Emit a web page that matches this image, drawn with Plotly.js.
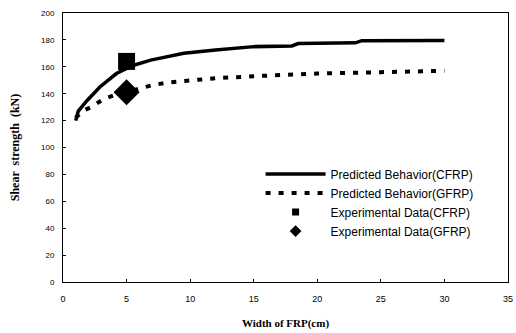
<!DOCTYPE html>
<html>
<head>
<meta charset="utf-8">
<script src="https://cdn.plot.ly/plotly-3.0.1.min.js"></script>
<style>html,body{margin:0;padding:0;background:#fff;}#chart{width:516px;height:333px;}</style>
</head>
<body>
<div id="chart"></div>
<script>
// Predicted behaviour, CFRP (solid line)
const cfrpX = [1, 1.2, 1.9, 2.9, 4.2, 5, 5.5, 6.9, 9.5, 12, 15, 18, 18.5, 23, 23.5, 30];
const cfrpY = [120, 127, 135, 145, 155, 159, 161, 165, 170, 172.5, 175, 175.5, 177.3, 177.8, 179.4, 179.5];
// Predicted behaviour, GFRP (dashed line)
const gfrpX = [1, 1.5, 2.2, 3.2, 4.2, 5, 6.1, 7.1, 8.4, 9.7, 12, 15, 20, 25, 30];
const gfrpY = [122, 127, 130, 136, 139.5, 141, 144, 146.5, 148.5, 149.5, 151.5, 153, 155, 156, 157];
// Experimental data
const expCfrpX = [5];
const expCfrpY = [164];
const expGfrpX = [5];
const expGfrpY = [141];

const names = ['Predicted Behavior(CFRP)', 'Predicted Behavior(GFRP)', 'Experimental Data(CFRP)', 'Experimental Data(GFRP)'];
const xTicks = [0, 5, 10, 15, 20, 25, 30, 35];
const yTicks = [0, 20, 40, 60, 80, 100, 120, 140, 160, 180, 200];

const data = [
  {x: cfrpX, y: cfrpY, name: names[0], mode: 'lines', type: 'scatter', legendrank: 1,
   line: {color: '#000', width: 3.5}},
  {x: gfrpX, y: gfrpY, name: names[1], mode: 'lines', type: 'scatter', legendrank: 2,
   line: {color: '#000', width: 4, dash: '5px,8px'}},
  {x: expCfrpX, y: expCfrpY, name: names[2], mode: 'markers', type: 'scatter', showlegend: false,
   marker: {symbol: 'square', size: 17, color: '#000'}},
  {x: expGfrpX, y: expGfrpY, name: names[3], mode: 'markers', type: 'scatter', showlegend: false,
   marker: {symbol: 'diamond', size: 20, color: '#000'}},
  // legend entries with small symbols, as in the original legend
  {x: [null], y: [null], name: names[2], mode: 'markers', type: 'scatter', legendrank: 3,
   marker: {symbol: 'square', size: 7, color: '#000'}},
  {x: [null], y: [null], name: names[3], mode: 'markers', type: 'scatter', legendrank: 4,
   marker: {symbol: 'diamond', size: 9, color: '#000'}}
];

const layout = {
  width: 516, height: 333,
  margin: {l: 63, r: 8, t: 13, b: 51},
  paper_bgcolor: '#fff', plot_bgcolor: '#fff',
  showlegend: true,
  legend: {x: 0.444, y: 0.455, xanchor: 'left', yanchor: 'top',
    bgcolor: 'rgba(0,0,0,0)', borderwidth: 0, itemwidth: 60,
    font: {family: 'Liberation Sans, Arial, sans-serif', size: 12, color: '#000'}},
  xaxis: {range: [0, 35], tickvals: xTicks, ticktext: xTicks.map(String),
    showgrid: false, zeroline: false, showline: true, mirror: true,
    linecolor: '#000', linewidth: 1, ticks: 'inside', ticklen: 3, tickcolor: '#000',
    ticklabelstandoff: 8,
    tickfont: {family: 'Liberation Sans, Arial, sans-serif', size: 9, color: '#000'},
    title: {text: 'Width of FRP(cm)', standoff: 16,
      font: {family: 'Liberation Serif, Times New Roman, serif', size: 11, color: '#000', weight: 'bold'}}},
  yaxis: {range: [0, 200], tickvals: yTicks, ticktext: yTicks.map(String),
    showgrid: false, zeroline: false, showline: true, mirror: true,
    linecolor: '#000', linewidth: 1, ticks: 'inside', ticklen: 3, tickcolor: '#000',
    ticklabelstandoff: 6,
    tickfont: {family: 'Liberation Sans, Arial, sans-serif', size: 8, color: '#000'},
    title: {text: 'Shear  strength  (kN)', standoff: 18,
      font: {family: 'Liberation Serif, Times New Roman, serif', size: 12, color: '#000', weight: 'bold'}}}
};

Plotly.newPlot('chart', data, layout, {displayModeBar: false, staticPlot: true});
</script>
</body>
</html>
